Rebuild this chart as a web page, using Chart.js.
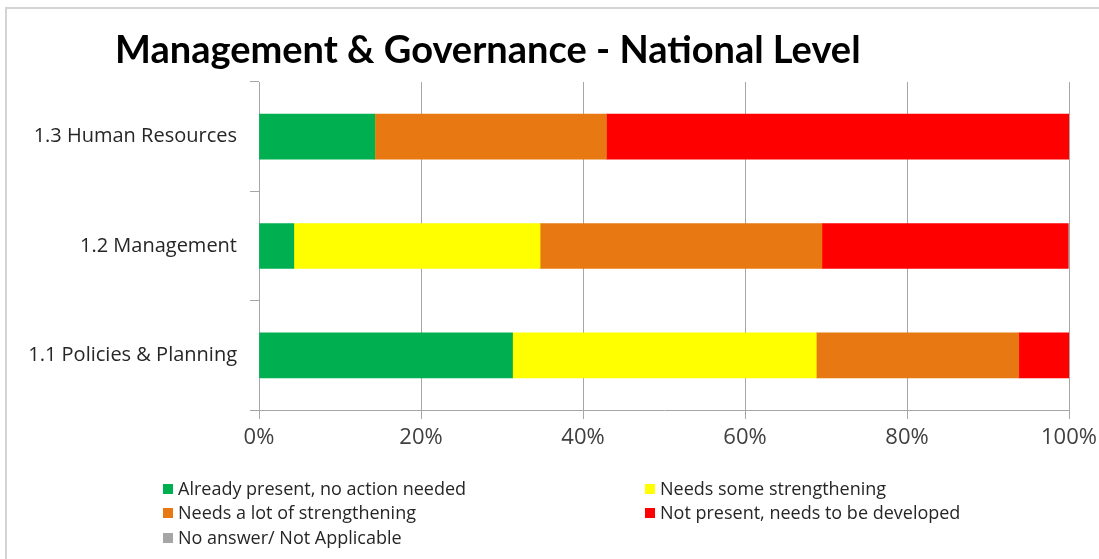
<!DOCTYPE html>
<html>
<head>
<meta charset="utf-8">
<script src="https://cdn.jsdelivr.net/npm/chart.js@4"></script>
<style>
    html, body { margin: 0; padding: 0; background: #fff; }
    #wrap { position: relative; width: 1099px; height: 559px; overflow: hidden; }
    #frame { position: absolute; left: 5px; top: 7px; width: 1200px; height: 700px;
             border-left: 2px solid #d4d4d4; border-top: 2px solid #d4d4d4; }
    #title { position: absolute; left: 115px; top: 26px; font-family: Lato, sans-serif;
             font-weight: bold; font-size: 38px; line-height: 44px; color: #000; white-space: nowrap; }
    #chart { position: absolute; left: 0; top: 0; }
    #legend { position: absolute; left: 163px; top: 477px; font-family: "Open Sans", sans-serif;
              font-size: 18px; color: #262626; }
    .item { position: absolute; white-space: nowrap; line-height: 22px; }
    .box { display: inline-block; width: 10px; height: 10px; margin-right: 5px; vertical-align: 1px; }
</style>
</head>
<body>
<div id="wrap">
    <div id="frame"></div>
    <canvas id="chart" width="1099" height="559"></canvas>
    <div id="title">Management &amp; Governance - National Level</div>
    <div id="legend"></div>
</div>
<script>
var categories = ['1.3 Human Resources', '1.2 Management', '1.1 Policies & Planning'];

// percentages of answers per category
var alreadyPresent = [14.3, 4.3, 31.3];
var someStrengthening = [0, 30.4, 37.5];
var lotStrengthening = [28.6, 34.8, 25.0];
var notPresent = [57.1, 30.4, 6.2];
var noAnswer = [0, 0, 0];

var seriesNames = ['Already present, no action needed', 'Needs some strengthening',
    'Needs a lot of strengthening', 'Not present, needs to be developed', 'No answer/ Not Applicable'];
var seriesValues = [alreadyPresent, someStrengthening, lotStrengthening, notPresent, noAnswer];
var seriesColors = ['#00b050', '#ffff00', '#e87811', '#ff0000', '#a6a6a6'];

var datasets = [];
for (var i = 0; i < seriesNames.length; i++) {
    datasets.push({
        label: seriesNames[i],
        data: seriesValues[i],
        backgroundColor: seriesColors[i],
        borderWidth: 0,
        barThickness: 45
    });
}

var ctx = document.getElementById('chart');
var chart = new Chart(ctx, {
    type: 'bar',
    data: { labels: categories, datasets: datasets },
    options: {
        indexAxis: 'y',
        responsive: false,
        animation: false,
        layout: { padding: { top: 82, right: 30, bottom: 99, left: 0 } },
        plugins: {
            legend: { display: false },
            title: { display: false },
            tooltip: { enabled: false }
        },
        scales: {
            x: {
                stacked: true,
                min: 0,
                max: 100,
                ticks: {
                    stepSize: 20,
                    padding: 6,
                    color: '#404040',
                    font: { family: 'Open Sans', size: 22 },
                    callback: function(v) { return v + '%'; }
                },
                grid: { color: '#a6a6a6', lineWidth: 1, tickLength: 9 },
                border: { color: '#a6a6a6' },
                afterFit: function(scale) {
                    scale.height = 50;
                    scale.paddingRight = 0; // let "100%" hang into the right margin
                }
            },
            y: {
                stacked: true,
                ticks: {
                    padding: 13,
                    color: '#262626',
                    font: { family: 'Open Sans', size: 20 }
                },
                grid: { drawOnChartArea: false, color: '#a6a6a6', tickLength: 9 },
                border: { color: '#a6a6a6' },
                afterFit: function(scale) { scale.width = 259; }
            }
        }
    }
});

// legend in two columns, like the original
var pos = [[0, 0], [482, 0], [0, 24], [482, 24], [0, 49]];
var legend = document.getElementById('legend');
chart.data.datasets.forEach(function(ds, k) {
    var el = document.createElement('div');
    el.className = 'item';
    el.style.left = pos[k][0] + 'px';
    el.style.top = pos[k][1] + 'px';
    el.innerHTML = '<span class="box" style="background:' + ds.backgroundColor + '"></span>' + ds.label;
    legend.appendChild(el);
});
</script>
</body>
</html>
